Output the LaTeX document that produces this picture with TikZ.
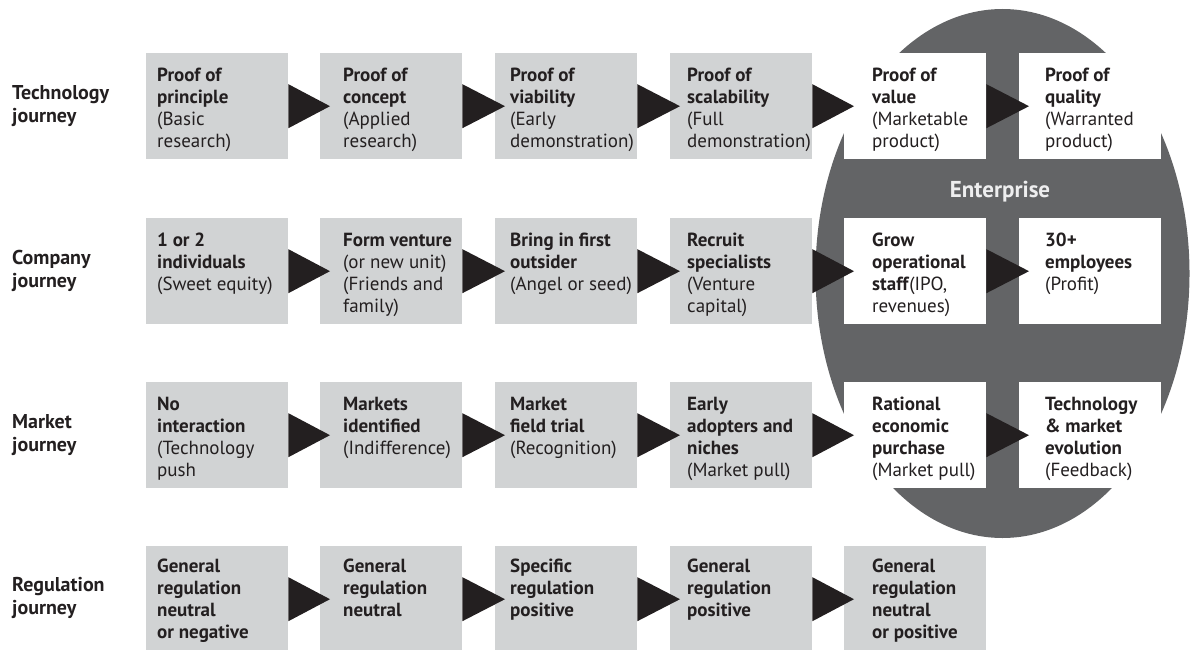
\documentclass[tikz,border=0pt]{standalone}
\usepackage{fontspec}
\setmainfont{PT Sans}
\usetikzlibrary{calc,shapes.geometric}

\definecolor{boxgray}{HTML}{D1D3D4}
\definecolor{ovalgray}{HTML}{636466}
\definecolor{ink}{HTML}{231F20}
\definecolor{entgray}{HTML}{EEEEEF}

\tikzset{
  stage/.style={rectangle, fill=boxgray, minimum width=142pt, minimum height=106pt, anchor=north west, inner sep=0pt},
  entstage/.style={stage, fill=white},
  stagetext/.style={anchor=north west, align=left, inner sep=0pt, text=ink, font=\fontsize{19}{22}\selectfont},
  journey/.style={anchor=west, align=left, inner sep=0pt, text=ink, font=\fontsize{20}{23}\selectfont\bfseries},
  push/.style={fill=ink}
}

\begin{document}
\begin{tikzpicture}[x=1pt, y=-1pt]
         \useasboundingbox (0,0) rectangle (1191,650);

         % the enterprise oval sits behind the last two columns
         \node [ellipse, fill=ovalgray, minimum width=374pt, minimum height=529pt, inner sep=0pt] (oval) at (1002.5,273.5) {};
         \node [text=entgray, inner sep=0pt, font=\fontsize{23}{26}\selectfont\bfseries] (enterprise) at (1000,192) {Enterprise};

         % row labels
         \node [journey] (techlbl) at (12,106.5) {Technology\\journey};
         \node [journey] (complbl) at (12,271)   {Company\\journey};
         \node [journey] (marklbl) at (12,435)   {Market\\journey};
         \node [journey] (reglbl)  at (12,597.5) {Regulation\\journey};

         % technology journey
         \node [stage]    (tech1) at (146,53)  {};
         \node [stage]    (tech2) at (320,53)  {};
         \node [stage]    (tech3) at (495,53)  {};
         \node [stage]    (tech4) at (670,53)  {};
         \node [entstage] (tech5) at (844,53)  {};
         \node [entstage] (tech6) at (1019,53) {};
         \node [stagetext] (tech1txt) at ($(tech1.north west)+(11,13)$) {\rule{0pt}{15pt}\textbf{Proof of}\\\textbf{principle}\\(Basic\\research)};
         \node [stagetext] (tech2txt) at ($(tech2.north west)+(23,13)$) {\rule{0pt}{15pt}\textbf{Proof of}\\\textbf{concept}\\(Applied\\research)};
         \node [stagetext] (tech3txt) at ($(tech3.north west)+(15,13)$) {\rule{0pt}{15pt}\textbf{Proof of}\\\textbf{viability}\\(Early\\demonstration)};
         \node [stagetext] (tech4txt) at ($(tech4.north west)+(17,13)$) {\rule{0pt}{15pt}\textbf{Proof of}\\\textbf{scalability}\\(Full\\demonstration)};
         \node [stagetext] (tech5txt) at ($(tech5.north west)+(28,13)$) {\rule{0pt}{15pt}\textbf{Proof of}\\\textbf{value}\\(Marketable\\product)};
         \node [stagetext] (tech6txt) at ($(tech6.north west)+(26,13)$) {\rule{0pt}{15pt}\textbf{Proof of}\\\textbf{quality}\\(Warranted\\product)};

         % company journey
         \node [stage]    (comp1) at (146,218)  {};
         \node [stage]    (comp2) at (320,218)  {};
         \node [stage]    (comp3) at (495,218)  {};
         \node [stage]    (comp4) at (670,218)  {};
         \node [entstage] (comp5) at (844,218)  {};
         \node [entstage] (comp6) at (1019,218) {};
         \node [stagetext] (comp1txt) at ($(comp1.north west)+(11,13)$) {\rule{0pt}{15pt}\textbf{1 or 2}\\\textbf{individuals}\\(Sweet equity)};
         \node [stagetext] (comp2txt) at ($(comp2.north west)+(23,13)$) {\rule{0pt}{15pt}\textbf{Form venture}\\(or new unit)\\(Friends and\\family)};
         \node [stagetext] (comp3txt) at ($(comp3.north west)+(15,13)$) {\rule{0pt}{15pt}\textbf{Bring in first}\\\textbf{outsider}\\(Angel or seed)};
         \node [stagetext] (comp4txt) at ($(comp4.north west)+(17,13)$) {\rule{0pt}{15pt}\textbf{Recruit}\\\textbf{specialists}\\(Venture\\capital)};
         \node [stagetext] (comp5txt) at ($(comp5.north west)+(28,13)$) {\rule{0pt}{15pt}\textbf{Grow}\\\textbf{operational}\\\textbf{staff}(IPO,\\revenues)};
         \node [stagetext] (comp6txt) at ($(comp6.north west)+(26,13)$) {\rule{0pt}{15pt}\textbf{30+}\\\textbf{employees}\\(Profit)};

         % market journey
         \node [stage]    (mark1) at (146,382)  {};
         \node [stage]    (mark2) at (320,382)  {};
         \node [stage]    (mark3) at (495,382)  {};
         \node [stage]    (mark4) at (670,382)  {};
         \node [entstage] (mark5) at (844,382)  {};
         \node [entstage] (mark6) at (1019,382) {};
         \node [stagetext] (mark1txt) at ($(mark1.north west)+(11,13)$) {\rule{0pt}{15pt}\textbf{No}\\\textbf{interaction}\\(Technology\\push};
         \node [stagetext] (mark2txt) at ($(mark2.north west)+(23,13)$) {\rule{0pt}{15pt}\textbf{Markets}\\\textbf{identified}\\(Indifference)};
         \node [stagetext] (mark3txt) at ($(mark3.north west)+(15,13)$) {\rule{0pt}{15pt}\textbf{Market}\\\textbf{field trial}\\(Recognition)};
         \node [stagetext] (mark4txt) at ($(mark4.north west)+(17,13)$) {\rule{0pt}{15pt}\textbf{Early}\\\textbf{adopters and}\\\textbf{niches}\\(Market pull)};
         \node [stagetext] (mark5txt) at ($(mark5.north west)+(28,13)$) {\rule{0pt}{15pt}\textbf{Rational}\\\textbf{economic}\\\textbf{purchase}\\(Market pull)};
         \node [stagetext] (mark6txt) at ($(mark6.north west)+(26,13)$) {\rule{0pt}{15pt}\textbf{Technology}\\\textbf{\& market}\\\textbf{evolution}\\(Feedback)};

         % regulation journey
         \node [stage] (reg1) at (146,546) {};
         \node [stage] (reg2) at (320,546) {};
         \node [stage] (reg3) at (495,546) {};
         \node [stage] (reg4) at (670,546) {};
         \node [stage] (reg5) at (844,546) {};
         \node [stagetext] (reg1txt) at ($(reg1.north west)+(11,11)$) {\rule{0pt}{15pt}\textbf{General}\\\textbf{regulation}\\\textbf{neutral}\\\textbf{or negative}};
         \node [stagetext] (reg2txt) at ($(reg2.north west)+(23,11)$) {\rule{0pt}{15pt}\textbf{General}\\\textbf{regulation}\\\textbf{neutral}};
         \node [stagetext] (reg3txt) at ($(reg3.north west)+(15,11)$) {\rule{0pt}{15pt}\textbf{Specific}\\\textbf{regulation}\\\textbf{positive}};
         \node [stagetext] (reg4txt) at ($(reg4.north west)+(17,11)$) {\rule{0pt}{15pt}\textbf{General}\\\textbf{regulation}\\\textbf{positive}};
         \node [stagetext] (reg5txt) at ($(reg5.north west)+(28,11)$) {\rule{0pt}{15pt}\textbf{General}\\\textbf{regulation}\\\textbf{neutral}\\\textbf{or positive}};

         % big arrowheads between the stages
         \fill [push] ($(tech1.east)+(0,-22)$) -- ($(tech1.east)+(0,22)$) -- ($(tech2.west)+(10,0)$) -- cycle;
         \fill [push] ($(tech2.east)+(0,-22)$) -- ($(tech2.east)+(0,22)$) -- ($(tech3.west)+(10,0)$) -- cycle;
         \fill [push] ($(tech3.east)+(0,-22)$) -- ($(tech3.east)+(0,22)$) -- ($(tech4.west)+(10,0)$) -- cycle;
         \fill [push] ($(tech4.east)+(0,-22)$) -- ($(tech4.east)+(0,22)$) -- ($(tech5.west)+(10,0)$) -- cycle;
         \fill [push] ($(tech5.east)+(0,-22)$) -- ($(tech5.east)+(0,22)$) -- ($(tech6.west)+(10,0)$) -- cycle;

         \fill [push] ($(comp1.east)+(0,-22)$) -- ($(comp1.east)+(0,22)$) -- ($(comp2.west)+(10,0)$) -- cycle;
         \fill [push] ($(comp2.east)+(0,-22)$) -- ($(comp2.east)+(0,22)$) -- ($(comp3.west)+(10,0)$) -- cycle;
         \fill [push] ($(comp3.east)+(0,-22)$) -- ($(comp3.east)+(0,22)$) -- ($(comp4.west)+(10,0)$) -- cycle;
         \fill [push] ($(comp4.east)+(0,-22)$) -- ($(comp4.east)+(0,22)$) -- ($(comp5.west)+(10,0)$) -- cycle;
         \fill [push] ($(comp5.east)+(0,-22)$) -- ($(comp5.east)+(0,22)$) -- ($(comp6.west)+(10,0)$) -- cycle;

         \fill [push] ($(mark1.east)+(0,-22)$) -- ($(mark1.east)+(0,22)$) -- ($(mark2.west)+(10,0)$) -- cycle;
         \fill [push] ($(mark2.east)+(0,-22)$) -- ($(mark2.east)+(0,22)$) -- ($(mark3.west)+(10,0)$) -- cycle;
         \fill [push] ($(mark3.east)+(0,-22)$) -- ($(mark3.east)+(0,22)$) -- ($(mark4.west)+(10,0)$) -- cycle;
         \fill [push] ($(mark4.east)+(0,-22)$) -- ($(mark4.east)+(0,22)$) -- ($(mark5.west)+(10,0)$) -- cycle;
         \fill [push] ($(mark5.east)+(0,-22)$) -- ($(mark5.east)+(0,22)$) -- ($(mark6.west)+(10,0)$) -- cycle;

         \fill [push] ($(reg1.east)+(0,-22)$) -- ($(reg1.east)+(0,22)$) -- ($(reg2.west)+(10,0)$) -- cycle;
         \fill [push] ($(reg2.east)+(0,-22)$) -- ($(reg2.east)+(0,22)$) -- ($(reg3.west)+(10,0)$) -- cycle;
         \fill [push] ($(reg3.east)+(0,-22)$) -- ($(reg3.east)+(0,22)$) -- ($(reg4.west)+(10,0)$) -- cycle;
         \fill [push] ($(reg4.east)+(0,-22)$) -- ($(reg4.east)+(0,22)$) -- ($(reg5.west)+(10,0)$) -- cycle;

\end{tikzpicture}
\end{document}
